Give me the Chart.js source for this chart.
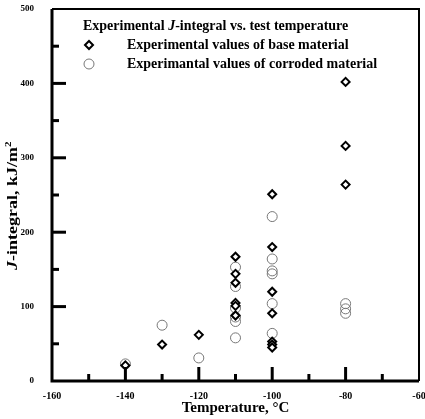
<!DOCTYPE html>
<html><head><meta charset="utf-8">
<script src="https://cdn.jsdelivr.net/npm/chart.js@4.4.1/dist/chart.umd.min.js"></script>
<style>html,body{margin:0;padding:0;background:#fff}#wrap{width:425px;height:419px}</style>
</head><body><div id="wrap"><canvas id="c" width="425" height="419"></canvas></div>
<script>
const seriesLabels = ['Experimental values of base material', 'Experimantal values of corroded material'];
const baseTemps = [-140,-130,-120,-110,-110,-110,-110,-110,-110,-100,-100,-100,-100,-100,-100,-100,-80,-80,-80];
const baseJ     = [21,49,62,167,144,132,105,101,88,251,180,120,91,53,49,45,402,316,264];
const corrTemps = [-140,-130,-120,-110,-110,-110,-110,-110,-110,-100,-100,-100,-100,-100,-100,-80,-80,-80];
const corrJ     = [23,75,31,153,127,98,86,80,58,221,164,148,144,104,64,104,97,91];
const xTicks = [-160,-140,-120,-100,-80,-60];
const yTicks = [0,100,200,300,400,500];
const FONT = "'Liberation Serif','Times New Roman',serif";

const toPts = (xs, ys) => xs.map((x, i) => ({x, y: ys[i]}));

const decor = {
  id: 'decor',
  afterDraw(chart) {
    const ctx = chart.ctx, a = chart.chartArea;
    const xs = chart.scales.x, ys = chart.scales.y;
    ctx.save();
    ctx.strokeStyle = '#000';
    ctx.lineWidth = 2;
    ctx.beginPath();
    ctx.moveTo(a.left, a.top); ctx.lineTo(a.right, a.top); ctx.lineTo(a.right, a.bottom);
    ctx.stroke();
    ctx.lineWidth = 3;
    ctx.beginPath();
    ctx.moveTo(a.left, a.top); ctx.lineTo(a.left, a.bottom); ctx.lineTo(a.right, a.bottom);
    ctx.stroke();
    ctx.lineWidth = 3;
    for (let v = xs.min; v <= xs.max; v += 10) {
      const px = xs.getPixelForValue(v);
      if (px <= a.left + 1 || px >= a.right - 1) continue;
      const len = (v % 20 === 0) ? 14 : 7;
      ctx.beginPath(); ctx.moveTo(px, a.bottom); ctx.lineTo(px, a.bottom - len); ctx.stroke();
    }
    for (let v = ys.min; v <= ys.max; v += 50) {
      const py = ys.getPixelForValue(v);
      if (py <= a.top + 1 || py >= a.bottom - 1) continue;
      const len = (v % 100 === 0) ? 14 : 7;
      ctx.beginPath(); ctx.moveTo(a.left, py); ctx.lineTo(a.left + len, py); ctx.stroke();
    }
    function drawParts(parts, x, y) {
      let cx = x;
      for (const [t, f] of parts) { ctx.font = f; ctx.fillText(t, cx, y); cx += ctx.measureText(t).width; }
      return cx - x;
    }
    function measureParts(parts) {
      let w = 0;
      for (const [t, f] of parts) { ctx.font = f; w += ctx.measureText(t).width; }
      return w;
    }
    ctx.fillStyle = '#000';
    ctx.textBaseline = 'middle';
    ctx.textAlign = 'left';
    const B14 = 'bold 14px ' + FONT, BI14 = 'italic bold 14px ' + FONT;
    drawParts([['Experimental ', B14], ['J', BI14], ['-integral vs. test temperature', B14]], 83, 26);
    const ds = chart.data.datasets;
    const ey = [45, 64];
    ds.forEach((d, i) => {
      const y = ey[i];
      ctx.save();
      ctx.lineWidth = d.pointBorderWidth; ctx.strokeStyle = d.pointBorderColor; ctx.fillStyle = d.pointBackgroundColor;
      Chart.helpers.drawPoint(ctx, {pointStyle: d.pointStyle, radius: d.pointRadius, borderWidth: d.pointBorderWidth, rotation: 0}, 89, y);
      ctx.restore();
      ctx.fillStyle = '#000';
      ctx.font = B14;
      ctx.fillText(d.label, 127, y);
    });
    const B15 = 'bold 15px ' + FONT;
    const xt = [['Temperature, °C', B15]];
    drawParts(xt, (a.left + a.right) / 2 - measureParts(xt) / 2, 408);
    const B18 = 'bold 18px ' + FONT, BI18 = 'italic bold 18px ' + FONT;
    ctx.save();
    ctx.translate(13, 205);
    ctx.rotate(-Math.PI / 2);
    ctx.scale(1, 0.78);
    const yt = [['J', BI18], ['-integral, kJ/m', B18]];
    const w = measureParts(yt) + 7;
    const end = drawParts(yt, -w / 2, 0);
    ctx.font = 'bold 11px ' + FONT;
    ctx.fillText('2', -w / 2 + end, -6);
    ctx.restore();
    ctx.restore();
  }
};

new Chart(document.getElementById('c'), {
  type: 'scatter',
  data: {
    datasets: [
      { label: seriesLabels[0], data: toPts(baseTemps, baseJ), pointStyle: 'rectRot', pointRadius: 4,
        pointBorderWidth: 2, pointBorderColor: '#000', pointBackgroundColor: '#fff', showLine: false },
      { label: seriesLabels[1], data: toPts(corrTemps, corrJ), pointStyle: 'circle', pointRadius: 5,
        pointBorderWidth: 1, pointBorderColor: '#777', pointBackgroundColor: 'rgba(255,255,255,0)', showLine: false }
    ]
  },
  options: {
    responsive: false, animation: false, devicePixelRatio: 1,
    layout: { padding: { top: 9, right: 3, left: 0, bottom: 0 } },
    plugins: { legend: { display: false }, tooltip: { enabled: false } },
    scales: {
      x: {
        type: 'linear', min: -160, max: -60,
        afterBuildTicks: s => { s.ticks = xTicks.map(v => ({value: v})); },
        afterFit: s => { s.height = 38; s.paddingLeft = 0; s.paddingRight = 0; },
        grid: { display: false }, border: { display: false },
        ticks: { color: '#000', padding: 1, maxRotation: 0, font: { family: FONT, size: 10, weight: 'bold' } }
      },
      y: {
        type: 'linear', min: 0, max: 500,
        afterBuildTicks: s => { s.ticks = yTicks.map(v => ({value: v})); },
        afterFit: s => { s.width = 52; s.paddingTop = 0; s.paddingBottom = 0; },
        grid: { display: false }, border: { display: false },
        ticks: { color: '#000', padding: 10, font: { family: FONT, size: 9, weight: 'bold' } }
      }
    }
  },
  plugins: [decor]
});
</script></body></html>
